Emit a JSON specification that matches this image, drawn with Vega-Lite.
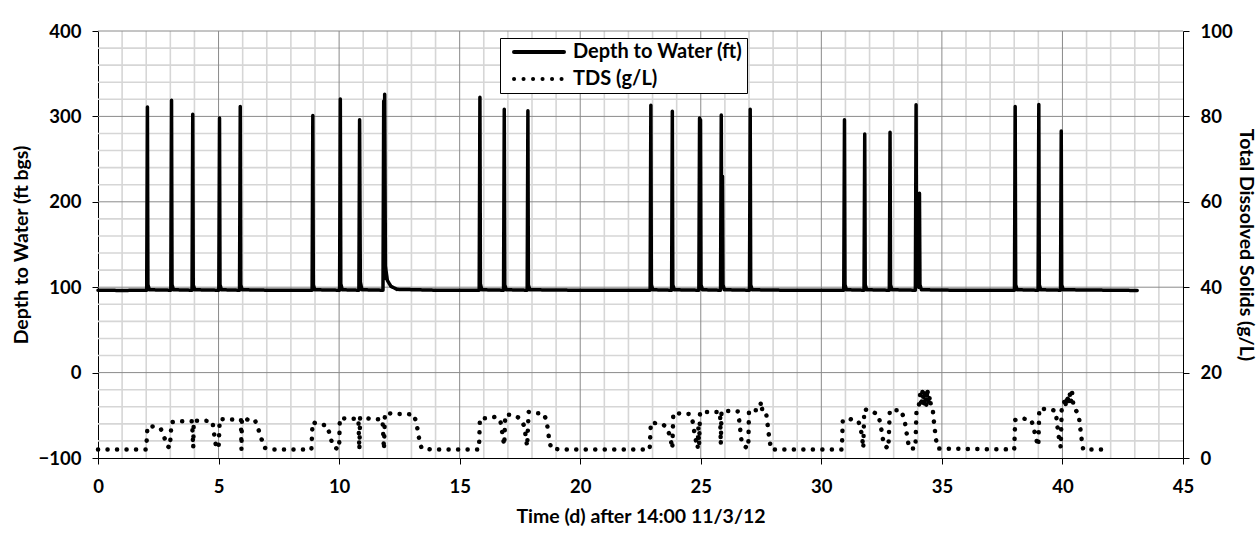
{
  "$schema": "https://vega.github.io/schema/vega-lite/v6.json",
  "width": 1085,
  "height": 427,
  "autosize": {"type": "none"},
  "padding": {"left": 98, "top": 31, "right": 76, "bottom": 81},
  "background": "white",
  "config": {
    "font": "Lato",
    "view": {"stroke": null},
    "axis": {
      "labelFont": "Lato", "labelFontSize": 18.5, "labelFontWeight": "bold", "labelColor": "#000",
      "titleFont": "Lato", "titleFontSize": 19.5, "titleFontWeight": "bold", "titleColor": "#000",
      "domainColor": "#000", "domainWidth": 1, "tickColor": "#000", "tickWidth": 1, "tickSize": 6,
      "grid": false
    },
    "legend": {
      "labelFont": "Lato", "labelFontSize": 20, "labelFontWeight": "bold", "labelColor": "#000"
    }
  },
  "datasets": {
    "minorX": [{"x":1},{"x":2},{"x":3},{"x":4},{"x":6},{"x":7},{"x":8},{"x":9},{"x":11},{"x":12},{"x":13},{"x":14},{"x":16},{"x":17},{"x":18},{"x":19},{"x":21},{"x":22},{"x":23},{"x":24},{"x":26},{"x":27},{"x":28},{"x":29},{"x":31},{"x":32},{"x":33},{"x":34},{"x":36},{"x":37},{"x":38},{"x":39},{"x":41},{"x":42},{"x":43},{"x":44}],
    "majorX": [{"x":5},{"x":10},{"x":15},{"x":20},{"x":25},{"x":30},{"x":35},{"x":40}],
    "minorY": [{"y":-80},{"y":-60},{"y":-40},{"y":-20},{"y":20},{"y":40},{"y":60},{"y":80},{"y":120},{"y":140},{"y":160},{"y":180},{"y":220},{"y":240},{"y":260},{"y":280},{"y":320},{"y":340},{"y":360},{"y":380}],
    "majorY": [{"y":0},{"y":100},{"y":200},{"y":300},{"y":400}],
    "depth": [
      {"t":0,"d":96.5},{"t":1.0,"d":96.2},
      {"t":2.02,"d":96.5},{"t":2.05,"d":311},{"t":2.07,"d":103},{"t":2.13,"d":97},
      {"t":3.02,"d":96.5},{"t":3.05,"d":319},{"t":3.07,"d":103},{"t":3.13,"d":97},
      {"t":3.9,"d":96.5},{"t":3.93,"d":302.5},{"t":3.95,"d":103},{"t":4.01,"d":97},
      {"t":5.01,"d":96.5},{"t":5.04,"d":298},{"t":5.06,"d":103},{"t":5.12,"d":97},
      {"t":5.87,"d":96.5},{"t":5.9,"d":311.5},{"t":5.92,"d":103},{"t":5.98,"d":97},
      {"t":7.5,"d":96.3},
      {"t":8.88,"d":96.5},{"t":8.91,"d":301},{"t":8.93,"d":103},{"t":8.99,"d":97},
      {"t":10.02,"d":96.5},{"t":10.05,"d":320.5},{"t":10.07,"d":104},{"t":10.13,"d":97},
      {"t":10.82,"d":96.5},{"t":10.85,"d":296},{"t":10.88,"d":106},{"t":10.95,"d":97},
      {"t":11.82,"d":96.5},{"t":11.85,"d":318},{"t":11.87,"d":110},{"t":11.89,"d":326},{"t":11.92,"d":125},{"t":12.0,"d":108},{"t":12.15,"d":101},{"t":12.4,"d":97.5},
      {"t":14.0,"d":96.5},
      {"t":15.81,"d":96.5},{"t":15.84,"d":322.5},{"t":15.86,"d":104},{"t":15.92,"d":97},
      {"t":16.82,"d":96.5},{"t":16.85,"d":308.5},{"t":16.87,"d":103},{"t":16.93,"d":97},
      {"t":17.8,"d":96.5},{"t":17.83,"d":306.5},{"t":17.85,"d":103},{"t":17.91,"d":97},
      {"t":20.5,"d":96.3},
      {"t":22.9,"d":96.5},{"t":22.93,"d":313},{"t":22.95,"d":103},{"t":23.01,"d":97},
      {"t":23.79,"d":96.5},{"t":23.82,"d":306},{"t":23.84,"d":103},{"t":23.9,"d":97},
      {"t":24.92,"d":96.5},{"t":24.95,"d":298},{"t":24.97,"d":110},{"t":24.99,"d":296},{"t":25.01,"d":103},{"t":25.07,"d":97},
      {"t":25.82,"d":96.5},{"t":25.85,"d":301.5},{"t":25.87,"d":110},{"t":25.9,"d":230},{"t":25.92,"d":103},{"t":25.98,"d":97},
      {"t":27.02,"d":96.5},{"t":27.05,"d":308.5},{"t":27.07,"d":103},{"t":27.13,"d":97},
      {"t":29.0,"d":96.3},
      {"t":30.93,"d":96.5},{"t":30.96,"d":296},{"t":30.98,"d":103},{"t":31.04,"d":97},
      {"t":31.77,"d":96.5},{"t":31.8,"d":279.5},{"t":31.82,"d":103},{"t":31.88,"d":97},
      {"t":32.82,"d":96.5},{"t":32.85,"d":281.5},{"t":32.87,"d":103},{"t":32.93,"d":97},
      {"t":33.9,"d":96.5},{"t":33.93,"d":313.5},{"t":33.95,"d":110},{"t":34.04,"d":100},{"t":34.07,"d":210},{"t":34.09,"d":103},{"t":34.15,"d":97},
      {"t":36.0,"d":96.3},
      {"t":38.01,"d":96.5},{"t":38.04,"d":311.5},{"t":38.06,"d":103},{"t":38.12,"d":97},
      {"t":38.99,"d":96.5},{"t":39.02,"d":314},{"t":39.04,"d":103},{"t":39.1,"d":97},
      {"t":39.92,"d":96.5},{"t":39.95,"d":283},{"t":39.97,"d":103},{"t":40.03,"d":97},
      {"t":43.1,"d":96.2}
    ],
    "tds": [
      {"t":0,"g":2.0},{"t":2.0,"g":2.0},{"t":2.05,"g":7.3},{"t":2.3,"g":7.4},{"t":2.6,"g":6.9},{"t":2.75,"g":4.8},{"t":2.88,"g":2.8},{"t":2.98,"g":2.4},{"t":3.05,"g":8.4},{"t":3.4,"g":8.6},{"t":3.9,"g":8.6},{"t":3.95,"g":2.4},{"t":3.97,"g":8.7},{"t":4.5,"g":8.7},{"t":4.75,"g":8.5},{"t":4.82,"g":5.5},{"t":4.9,"g":2.5},{"t":5.0,"g":2.3},{"t":5.05,"g":9.1},{"t":5.5,"g":9.0},{"t":5.93,"g":9.0},{"t":5.95,"g":2.0},{"t":5.97,"g":9.4},{"t":6.2,"g":9.0},{"t":6.5,"g":9.0},{"t":6.62,"g":7.3},{"t":6.75,"g":5.0},{"t":6.9,"g":2.4},{"t":7.2,"g":2.0},
      {"t":8.85,"g":2.0},{"t":8.9,"g":8.4},{"t":9.1,"g":8.0},{"t":9.5,"g":7.6},{"t":9.62,"g":5.4},{"t":9.73,"g":3.0},{"t":9.9,"g":2.2},{"t":10.0,"g":2.1},{"t":10.03,"g":9.3},{"t":10.4,"g":9.2},{"t":10.8,"g":9.2},{"t":10.84,"g":2.0},{"t":10.87,"g":9.5},{"t":11.3,"g":9.2},{"t":11.8,"g":9.0},{"t":11.86,"g":2.0},{"t":11.9,"g":10.5},{"t":12.5,"g":10.3},{"t":13.1,"g":10.2},{"t":13.2,"g":8.3},{"t":13.27,"g":6.2},{"t":13.33,"g":4.1},{"t":13.42,"g":2.3},{"t":13.8,"g":2.0},
      {"t":15.8,"g":2.0},{"t":15.84,"g":9.3},{"t":16.1,"g":9.3},{"t":16.45,"g":9.6},{"t":16.68,"g":9.0},{"t":16.74,"g":7.0},{"t":16.8,"g":4.5},{"t":16.85,"g":3.0},{"t":16.89,"g":10.1},{"t":17.2,"g":10.1},{"t":17.5,"g":9.3},{"t":17.68,"g":7.5},{"t":17.74,"g":5.0},{"t":17.8,"g":2.7},{"t":17.86,"g":10.8},{"t":18.2,"g":10.5},{"t":18.45,"g":10.5},{"t":18.6,"g":9.0},{"t":18.66,"g":6.5},{"t":18.72,"g":4.0},{"t":18.8,"g":2.2},{"t":19.2,"g":2.0},
      {"t":22.88,"g":2.0},{"t":22.93,"g":8.3},{"t":23.2,"g":8.1},{"t":23.45,"g":7.8},{"t":23.6,"g":7.0},{"t":23.7,"g":5.5},{"t":23.78,"g":3.5},{"t":23.82,"g":2.2},{"t":23.86,"g":10.5},{"t":24.2,"g":10.4},{"t":24.55,"g":10.3},{"t":24.65,"g":9.0},{"t":24.72,"g":6.5},{"t":24.8,"g":4.0},{"t":24.87,"g":2.3},{"t":24.9,"g":7.0},{"t":24.93,"g":3.0},{"t":24.97,"g":10.8},{"t":25.4,"g":10.8},{"t":25.8,"g":10.8},{"t":25.83,"g":3.2},{"t":25.86,"g":11.0},{"t":26.3,"g":11.0},{"t":26.55,"g":10.9},{"t":26.6,"g":8.5},{"t":26.65,"g":6.0},{"t":26.7,"g":3.5},{"t":26.85,"g":2.6},{"t":26.97,"g":2.3},{"t":27.0,"g":11.2},{"t":27.3,"g":11.2},{"t":27.45,"g":11.5},{"t":27.5,"g":13.2},{"t":27.55,"g":11.2},{"t":27.7,"g":11.0},{"t":27.75,"g":8.8},{"t":27.8,"g":6.5},{"t":27.85,"g":4.2},{"t":27.92,"g":2.0},
      {"t":30.85,"g":2.0},{"t":30.89,"g":8.9},{"t":31.2,"g":9.1},{"t":31.54,"g":8.6},{"t":31.61,"g":7.2},{"t":31.68,"g":5.5},{"t":31.74,"g":2.3},{"t":31.78,"g":11.4},{"t":32.1,"g":11.0},{"t":32.37,"g":10.0},{"t":32.47,"g":7.4},{"t":32.53,"g":5.2},{"t":32.6,"g":3.0},{"t":32.78,"g":2.2},{"t":32.84,"g":11.2},{"t":33.3,"g":11.2},{"t":33.45,"g":9.0},{"t":33.52,"g":6.5},{"t":33.58,"g":4.2},{"t":33.65,"g":2.2},{"t":33.9,"g":2.2},{"t":33.95,"g":11.8},{"t":34.05,"g":12.5},{"t":34.1,"g":15.0},{"t":34.15,"g":12.0},{"t":34.2,"g":16.0},{"t":34.25,"g":12.5},{"t":34.3,"g":15.5},{"t":34.35,"g":12.0},{"t":34.4,"g":16.2},{"t":34.45,"g":12.5},{"t":34.5,"g":14.5},{"t":34.55,"g":12.0},{"t":34.62,"g":11.5},{"t":34.66,"g":9.0},{"t":34.71,"g":6.5},{"t":34.76,"g":4.2},{"t":34.85,"g":2.2},
      {"t":38.0,"g":2.0},{"t":38.04,"g":8.9},{"t":38.3,"g":9.3},{"t":38.7,"g":8.9},{"t":38.8,"g":7.4},{"t":38.88,"g":5.0},{"t":38.96,"g":3.5},{"t":39.0,"g":2.8},{"t":39.04,"g":11.6},{"t":39.4,"g":11.4},{"t":39.7,"g":11.1},{"t":39.75,"g":9.5},{"t":39.8,"g":7.0},{"t":39.86,"g":4.5},{"t":39.93,"g":2.5},{"t":39.97,"g":11.9},{"t":40.05,"g":12.2},{"t":40.1,"g":14.0},{"t":40.15,"g":12.0},{"t":40.2,"g":14.8},{"t":40.25,"g":12.5},{"t":40.3,"g":15.2},{"t":40.35,"g":13.0},{"t":40.4,"g":15.4},{"t":40.45,"g":12.5},{"t":40.5,"g":11.5},{"t":40.62,"g":10.7},{"t":40.7,"g":8.9},{"t":40.75,"g":6.5},{"t":40.8,"g":4.2},{"t":40.86,"g":2.0},{"t":41.7,"g":2.0}
    ]
  },
  "layer": [
    {
      "data": {"name": "minorX"},
      "mark": {"type": "rule", "color": "#d6d6d6", "strokeWidth": 1.6},
      "encoding": {"x": {"field": "x", "type": "quantitative", "scale": {"domain": [0, 45], "nice": false},
        "axis": {"orient": "bottom", "values": [0,5,10,15,20,25,30,35,40,45], "title": "Time (d) after 14:00 11/3/12", "labelPadding": 13, "titlePadding": 12, "labelFlush": false}}}
    },
    {
      "data": {"name": "minorY"},
      "mark": {"type": "rule", "color": "#d6d6d6", "strokeWidth": 1.6},
      "encoding": {"y": {"field": "y", "type": "quantitative", "scale": {"domain": [-100, 400], "nice": false}, "axis": null}}
    },
    {
      "data": {"name": "majorX"},
      "mark": {"type": "rule", "color": "#8a8a8a", "strokeWidth": 1},
      "encoding": {"x": {"field": "x", "type": "quantitative", "scale": {"domain": [0, 45], "nice": false},
        "axis": {"orient": "bottom", "values": [0,5,10,15,20,25,30,35,40,45], "title": "Time (d) after 14:00 11/3/12", "labelPadding": 13, "titlePadding": 12, "labelFlush": false}}}
    },
    {
      "data": {"name": "majorY"},
      "mark": {"type": "rule", "color": "#8a8a8a", "strokeWidth": 1},
      "encoding": {"y": {"field": "y", "type": "quantitative", "scale": {"domain": [-100, 400], "nice": false}, "axis": null}}
    },
    {
      "data": {"name": "depth"},
      "mark": {"type": "line", "color": "#000", "strokeWidth": 3.5, "strokeCap": "round", "strokeJoin": "round"},
      "encoding": {
        "x": {"field": "t", "type": "quantitative", "scale": {"domain": [0, 45], "nice": false},
          "axis": {"orient": "bottom", "values": [0,5,10,15,20,25,30,35,40,45], "title": "Time (d) after 14:00 11/3/12", "labelPadding": 13, "titlePadding": 12, "labelFlush": false}},
        "y": {"field": "d", "type": "quantitative", "scale": {"domain": [-100, 400], "nice": false},
              "axis": {"orient": "left", "values": [-100,0,100,200,300,400], "title": "Depth to Water (ft bgs)", "labelPadding": 11, "titlePadding": 7, "labelFlush": false}},
        "strokeDash": {
          "datum": "Depth to Water (ft)", "type": "nominal",
          "scale": {"domain": ["Depth to Water (ft)", "TDS (g/L)"], "range": [[1, 0], [0.1, 9.4]]},
          "legend": {
            "title": null, "orient": "none", "legendX": 402, "legendY": 7,
            "padding": 4, "rowPadding": 7, "strokeColor": "#000", "fillColor": "#fff",
            "symbolType": "M-5,0H5", "symbolSize": 100, "symbolStrokeWidth": 4, "symbolStrokeColor": "#000",
            "symbolFillColor": "transparent", "symbolOffset": 25, "labelOffset": 24, "labelLimit": 400,
            "labelExpr": "datum.label + '     '",
            "encode": {"symbols": {"update": {"strokeCap": {"value": "round"}}}}
          }
        }
      }
    },
    {
      "data": {"name": "tds"},
      "mark": {"type": "line", "color": "#000", "strokeWidth": 4.5, "strokeCap": "round", "strokeJoin": "round"},
      "encoding": {
        "x": {"field": "t", "type": "quantitative", "scale": {"domain": [0, 45], "nice": false},
          "axis": {"orient": "bottom", "values": [0,5,10,15,20,25,30,35,40,45], "title": "Time (d) after 14:00 11/3/12", "labelPadding": 13, "titlePadding": 12, "labelFlush": false}},
        "y": {"field": "g", "type": "quantitative", "scale": {"domain": [0, 100], "nice": false},
              "axis": {"orient": "right", "values": [0,20,40,60,80,100], "title": "Total Dissolved Solids (g/L)", "labelPadding": 11, "titlePadding": 3, "labelFlush": false}},
        "strokeDash": {"datum": "TDS (g/L)", "type": "nominal"}
      }
    }
  ],
  "resolve": {"scale": {"y": "independent"}}
}
